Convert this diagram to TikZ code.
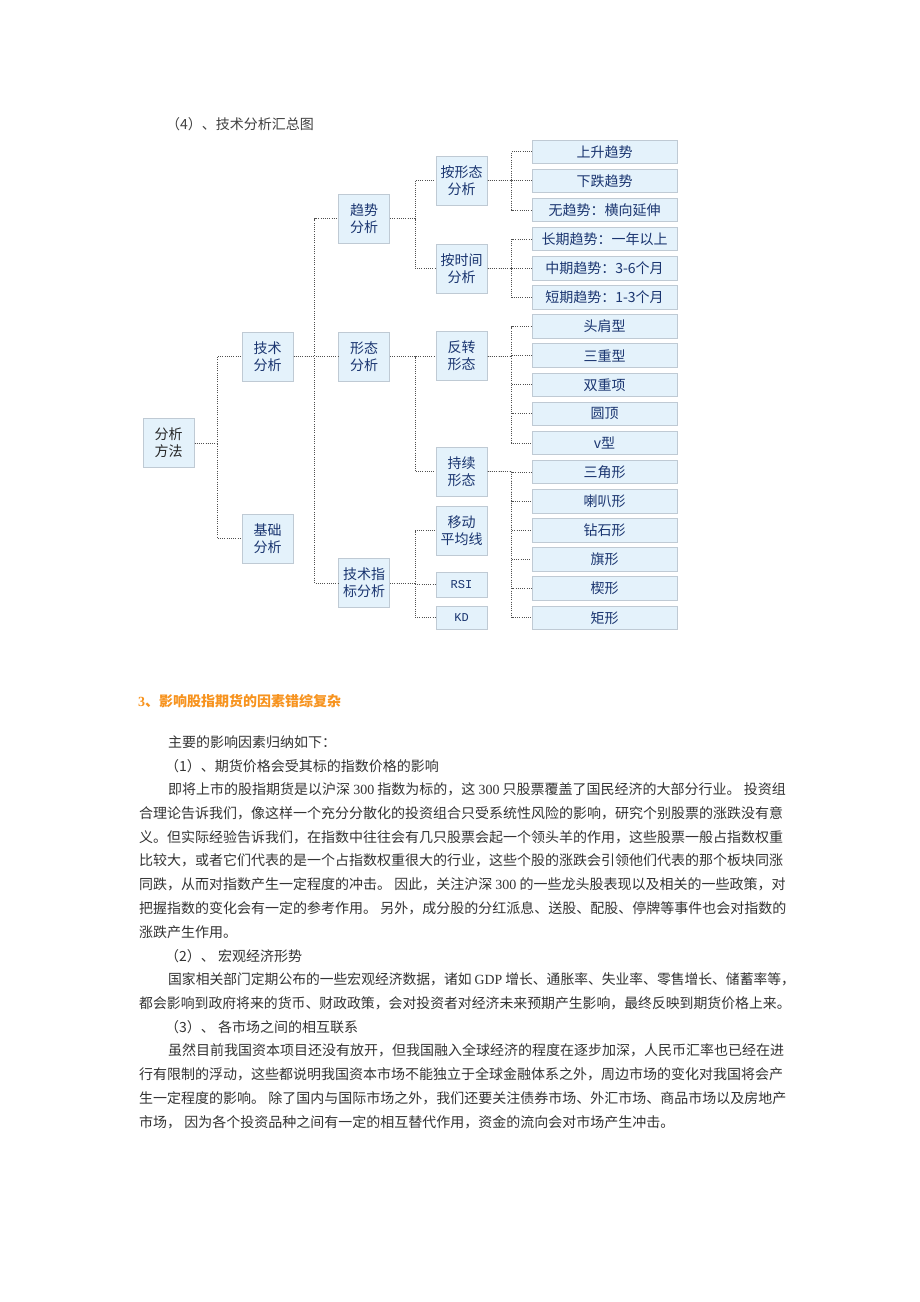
\documentclass[tikz,border=0pt]{standalone}
\usepackage{graphicx}
\usepackage{fontspec}
\newfontfamily\cjk{Noto Sans CJK SC}
\newfontfamily\lat{Liberation Serif}
\newfontfamily\mono{Liberation Mono}
\definecolor{boxfill}{HTML}{E4F2FB}
\definecolor{boxline}{HTML}{BFCAD4}
\definecolor{navy}{HTML}{1A3570}
\definecolor{connc}{HTML}{505050}
\definecolor{bodygray}{HTML}{333333}
\definecolor{orangehd}{HTML}{F7931E}
\tikzset{
  box/.style={draw=boxline, fill=boxfill, line width=1pt, inner sep=0pt,
    minimum width=51pt, minimum height=49pt, align=center, text=navy,
    font=\cjk\fontsize{14}{17}\selectfont},
  leaf/.style={box, minimum width=145pt, minimum height=23.5pt},
  conn/.style={draw=connc, line width=1pt, dash pattern=on 1pt off 1.2pt},
  body/.style={anchor=west, inner sep=0pt, text=bodygray,
    font=\cjk\fontsize{14}{16}\selectfont}
}
\begin{document}
\begin{tikzpicture}[x=1pt,y=-1pt]
\useasboundingbox (0,0) rectangle (920,1302);
\fill[white] (0,0) rectangle (920,1302);

\node[body, text=black!75] (title) at (166,124) {（4）、技术分析汇总图};

% diagram boxes
\node[box, text=black!85] (fx) at (168.5,443) {分析\\方法};
\node[box] (js) at (267.5,356.5) {技术\\分析};
\node[box] (jc) at (267.5,538.5) {基础\\分析};
\node[box] (qs) at (364,218.5) {趋势\\分析};
\node[box] (xt) at (364,356.5) {形态\\分析};
\node[box] (zb) at (364,583) {技术指\\标分析};
\node[box] (axt) at (461.5,180.5) {按形态\\分析};
\node[box] (asj) at (461.5,268.5) {按时间\\分析};
\node[box] (fz) at (461.5,356) {反转\\形态};
\node[box] (cx) at (461.5,471.5) {持续\\形态};
\node[box] (yd) at (461.5,530.5) {移动\\平均线};
\node[box, minimum height=25pt, font=\mono\fontsize{12}{14}\selectfont] (rsi) at (461.5,584.5) {RSI};
\node[box, minimum height=23pt, font=\mono\fontsize{12}{14}\selectfont] (kd) at (461.5,617.5) {KD};

\foreach \t [count=\i from 0] in {上升趋势,下跌趋势,无趋势：横向延伸,长期趋势：一年以上,中期趋势：3-6个月,短期趋势：1-3个月,头肩型,三重型,双重项,圆顶,v型,三角形,喇叭形,钻石形,旗形,楔形,矩形}
  \node[leaf] (r\i) at (604.5,{151.75+29.125*\i}) {\t};

% connectors
\foreach \c in {js,jc} \draw[conn] (fx.east) -- ++(23,0) |- (\c.west);
\foreach \c in {qs,xt,zb} \draw[conn] (js.east) -- ++(21,0) |- (\c.west);
\foreach \c in {axt,asj} \draw[conn] (qs.east) -- ++(25,0) |- (\c.west);
\foreach \c in {fz,cx} \draw[conn] (xt.east) -- ++(25,0) |- (\c.west);
\foreach \c in {yd,rsi,kd} \draw[conn] (zb.east) -- ++(25,0) |- (\c.west);
\foreach \c in {r0,r1,r2} \draw[conn] (axt.east) -- ++(24,0) |- (\c.west);
\foreach \c in {r3,r4,r5} \draw[conn] (asj.east) -- ++(24,0) |- (\c.west);
\foreach \c in {r6,r7,r8,r9,r10} \draw[conn] (fz.east) -- ++(24,0) |- (\c.west);
\foreach \c in {r11,r12,r13,r14,r15,r16} \draw[conn] (cx.east) -- ++(24,0) |- (\c.west);

% text
\node[body, text=orangehd, font=\cjk\bfseries\fontsize{14}{16}\selectfont] (h3) at (138,701) {{\lat\bfseries 3}、影响股指期货的因素错综复杂};
\node[body] (l1) at (168,742) {主要的影响因素归纳如下：};
\node[body] (l2) at (165,766) {（1）、期货价格会受其标的指数价格的影响};
\node[body] (l3) at (168,789.5) {即将上市的股指期货是以沪深 {\lat 300} 指数为标的，这 {\lat 300} 只股票覆盖了国民经济的大部分行业。 投资组};
\node[body] (l4) at (139,813.25) {合理论告诉我们，像这样一个充分分散化的投资组合只受系统性风险的影响，研究个别股票的涨跌没有意};
\node[body] (l5) at (139,837) {义。但实际经验告诉我们，在指数中往往会有几只股票会起一个领头羊的作用，这些股票一般占指数权重};
\node[body] (l6) at (139,860.75) {比较大，或者它们代表的是一个占指数权重很大的行业，这些个股的涨跌会引领他们代表的那个板块同涨};
\node[body] (l7) at (139,884.5) {同跌，从而对指数产生一定程度的冲击。 因此，关注沪深 {\lat 300} 的一些龙头股表现以及相关的一些政策，对};
\node[body] (l8) at (139,908.25) {把握指数的变化会有一定的参考作用。 另外，成分股的分红派息、送股、配股、停牌等事件也会对指数的};
\node[body] (l9) at (139,932) {涨跌产生作用。};
\node[body] (l10) at (165,955.75) {（2）、 宏观经济形势};
\node[body] (l11) at (168,979.5) {\scalebox{0.985}[1]{国家相关部门定期公布的一些宏观经济数据，诸如 {\lat GDP} 增长、通胀率、失业率、零售增长、储蓄率等，}};
\node[body] (l12) at (139,1003.25) {\scalebox{0.99}[1]{都会影响到政府将来的货币、财政政策，会对投资者对经济未来预期产生影响，最终反映到期货价格上来。}};
\node[body] (l13) at (165,1027) {（3）、 各市场之间的相互联系};
\node[body] (l14) at (168,1050.75) {虽然目前我国资本项目还没有放开，但我国融入全球经济的程度在逐步加深，人民币汇率也已经在进};
\node[body] (l15) at (139,1074.5) {行有限制的浮动，这些都说明我国资本市场不能独立于全球金融体系之外，周边市场的变化对我国将会产};
\node[body] (l16) at (139,1098.25) {生一定程度的影响。 除了国内与国际市场之外，我们还要关注债券市场、外汇市场、商品市场以及房地产};
\node[body] (l17) at (139,1122) {市场， 因为各个投资品种之间有一定的相互替代作用，资金的流向会对市场产生冲击。};
\end{tikzpicture}
\end{document}
